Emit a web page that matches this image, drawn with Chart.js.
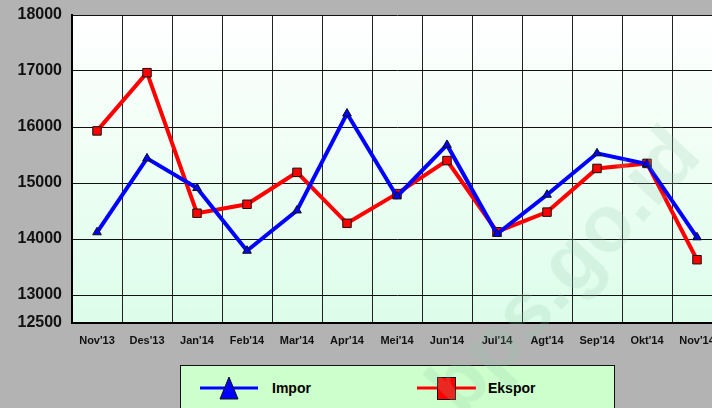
<!DOCTYPE html>
<html>
<head>
<meta charset="utf-8">
<script src="https://cdn.jsdelivr.net/npm/chart.js@4.4.1/dist/chart.umd.min.js"></script>
<style>
  html, body { margin: 0; padding: 0; background: #b3b3b3; overflow: hidden; width: 712px; height: 408px; }
  #wrap { position: absolute; left: 0; top: 0; width: 740px; height: 408px; }
  #c { position: absolute; left: 0; top: 0; }
  #legend { position: absolute; left: 180px; top: 365px; width: 433px; height: 60px; background: #ccffcc; border: 1px solid #111; box-sizing: content-box; }
  .li { position: absolute; top: 10px; height: 24px; }
  .lt { position: absolute; top: 14px; font: bold 14px 'Liberation Sans', Arial, sans-serif; color: #000; }
  #wm { position: absolute; left: 412px; top: 372px; font: bold 80px 'Liberation Sans', Arial, sans-serif; line-height: 1; color: rgba(150,200,170,0.2); transform-origin: 0 0; transform: rotate(-47deg); white-space: nowrap; pointer-events: none; }
</style>
</head>
<body>
<div id="wrap">
  <canvas id="c" width="740" height="408"></canvas>
  <div id="legend">
    <svg class="li" style="left:19px" width="60" height="24"><line x1="0" y1="12" x2="58" y2="12" stroke="#0000ff" stroke-width="3"/><polygon points="29,1 20,23 38,23" fill="#0000ff" stroke="#111" stroke-width="1"/></svg>
    <div class="lt" style="left:91px">Impor</div>
    <svg class="li" style="left:236px" width="60" height="24"><line x1="0" y1="12" x2="59" y2="12" stroke="#ff0000" stroke-width="3"/><rect x="20.5" y="1.5" width="18" height="22" fill="#ff0000" stroke="#111" stroke-width="1"/></svg>
    <div class="lt" style="left:307px">Ekspor</div>
  </div>
  <div id="wm">bps.go.id</div>
</div>
<script>
const categories = ["Nov'13","Des'13","Jan'14","Feb'14","Mar'14","Apr'14","Mei'14","Jun'14","Jul'14","Agt'14","Sep'14","Okt'14","Nov'14"];
const impor  = [14120, 15440, 14910, 13790, 14510, 16240, 14760, 15680, 14090, 14790, 15530, 15340, 14030];
const ekspor = [15930, 16970, 14460, 14620, 15190, 14280, 14810, 15400, 14130, 14480, 15260, 15350, 13630];
const yTicks = [12500, 13000, 14000, 15000, 16000, 17000, 18000];

const FONT = "'Liberation Sans', Arial, sans-serif";

const bgPlugin = {
  id: 'bg',
  beforeDraw(chart) {
    const { ctx, chartArea: a } = chart;
    ctx.save();
    ctx.fillStyle = '#b3b3b3';
    ctx.fillRect(0, 0, chart.width, chart.height);
    const g = ctx.createLinearGradient(0, a.top, 0, a.bottom);
    g.addColorStop(0, '#ffffff');
    g.addColorStop(1, '#dcfde9');
    ctx.fillStyle = g;
    ctx.fillRect(a.left, a.top, a.right - a.left, a.bottom - a.top);
    ctx.restore();
  }
};

new Chart(document.getElementById('c'), {
  type: 'line',
  data: {
    labels: categories,
    datasets: [
      {
        label: 'Impor',
        data: impor,
        borderColor: '#0000ff',
        backgroundColor: '#0000ff',
        borderWidth: 4,
        pointStyle: 'triangle',
        pointRadius: 5,
        pointBorderColor: '#111',
        pointBorderWidth: 1,
        pointBackgroundColor: '#0000ff',
        tension: 0
      },
      {
        label: 'Ekspor',
        data: ekspor,
        borderColor: '#ff0000',
        backgroundColor: '#ff0000',
        borderWidth: 4,
        pointStyle: 'rect',
        pointRadius: 6,
        pointBorderColor: '#111',
        pointBorderWidth: 1,
        pointBackgroundColor: '#ff0000',
        tension: 0
      }
    ]
  },
  options: {
    responsive: false,
    animation: false,
    devicePixelRatio: 1,
    layout: { padding: { left: 0, right: 18, top: 15, bottom: 0 } },
    plugins: { legend: { display: false }, tooltip: { enabled: false } },
    scales: {
      x: {
        type: 'category',
        offset: true,
        grid: { offset: true, color: '#222', lineWidth: 1, drawTicks: false },
        border: { display: true, color: '#000', width: 2 },
        ticks: { color: '#111', font: { family: FONT, size: 11, weight: 'bold' }, padding: 11, maxRotation: 0, autoSkip: false },
        afterFit(s) { s.height = 85; s.paddingLeft = 0; s.paddingRight = 0; }
      },
      y: {
        min: 12500,
        max: 18000,
        afterBuildTicks(s) { s.ticks = yTicks.map(v => ({ value: v })); },
        grid: {
          color: (c) => (c.tick && c.tick.value === 12500) ? 'rgba(0,0,0,0)' : '#111',
          lineWidth: 1,
          drawTicks: false
        },
        border: { display: true, color: '#000', width: 2 },
        ticks: { color: '#111', font: { family: FONT, size: 16, weight: 'bold' }, padding: 10, callback: (v) => String(v) },
        afterFit(s) { s.width = 72; s.paddingTop = 0; s.paddingBottom = 0; }
      }
    }
  },
  plugins: [bgPlugin]
});
</script>
</body>
</html>
